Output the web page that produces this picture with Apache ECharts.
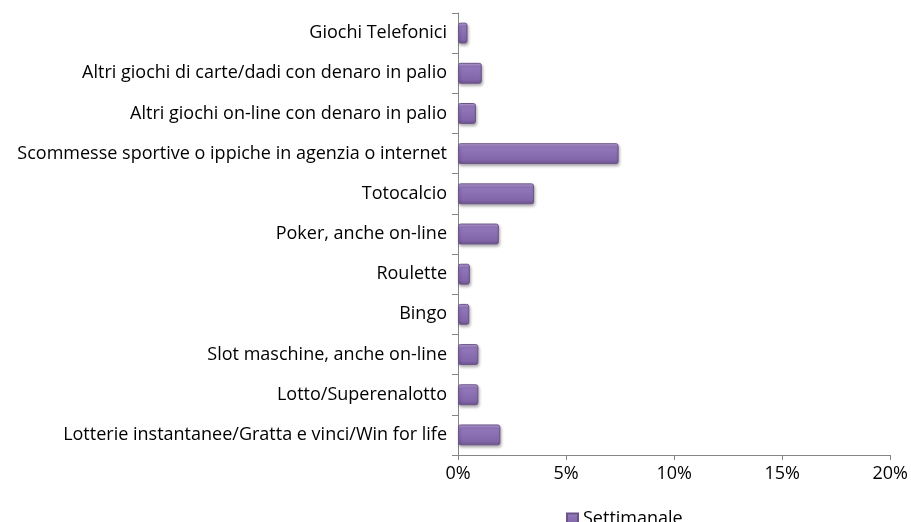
<!DOCTYPE html>
<html>
<head>
<meta charset="utf-8">
<script src="https://cdn.jsdelivr.net/npm/echarts@6/dist/echarts.min.js"></script>
<style>
  html, body { margin: 0; padding: 0; background: #fff; }
  #chart { width: 911px; height: 522px; }
</style>
</head>
<body>
<div id="chart"></div>
<script>
// Categories listed top to bottom
const categories = [
  'Giochi Telefonici',
  'Altri giochi di carte/dadi con denaro in palio',
  'Altri giochi on-line con denaro in palio',
  'Scommesse sportive o ippiche in agenzia o internet',
  'Totocalcio',
  'Poker, anche on-line',
  'Roulette',
  'Bingo',
  'Slot maschine, anche on-line',
  'Lotto/Superenalotto',
  'Lotterie instantanee/Gratta e vinci/Win for life'
];
// Weekly share of players (%)
const settimanale = [0.44, 1.1, 0.83, 7.43, 3.52, 1.89, 0.55, 0.52, 0.94, 0.94, 1.96];
const seriesName = 'Settimanale';

const chart = echarts.init(document.getElementById('chart'));
const font = 'Open Sans';
const fs = 18;

chart.setOption({
  animation: false,
  backgroundColor: '#ffffff',
  grid: { left: 458, right: 19, top: 13, bottom: 67, containLabel: false },
  legend: {
    data: [seriesName],
    top: 505,
    left: 561,
    itemWidth: 11,
    itemHeight: 11,
    itemGap: 6,
    icon: 'rect',
    textStyle: { fontFamily: font, fontSize: fs, color: '#000' }
  },
  xAxis: {
    type: 'value',
    min: 0,
    max: 20,
    interval: 5,
    axisLine: { show: true, lineStyle: { color: '#868686', width: 1 } },
    axisTick: { show: true, length: 5, inside: false, lineStyle: { color: '#868686' } },
    splitLine: { show: false },
    axisLabel: {
      formatter: v => v + '%',
      fontFamily: font, fontSize: fs, color: '#000', margin: 10
    }
  },
  yAxis: {
    type: 'category',
    data: categories,
    inverse: true,
    axisLine: { show: true, lineStyle: { color: '#868686', width: 1 } },
    axisTick: { show: true, length: 6, lineStyle: { color: '#868686' } },
    axisLabel: { fontFamily: font, fontSize: fs, color: '#000', margin: 11 }
  },
  series: [{
    name: seriesName,
    type: 'bar',
    data: settimanale,
    barWidth: '52%',
    itemStyle: {
      color: new echarts.graphic.LinearGradient(0, 0, 0, 1, [
        { offset: 0, color: '#c0a8e0' },
        { offset: 0.18, color: '#9478bc' },
        { offset: 0.8, color: '#8266aa' },
        { offset: 1, color: '#6c518e' }
      ]),
      borderColor: '#6b5488',
      borderWidth: 1,
      borderRadius: 2,
      shadowColor: 'rgba(0,0,0,0.3)',
      shadowBlur: 3,
      shadowOffsetX: 1,
      shadowOffsetY: 2
    }
  }]
});
</script>
</body>
</html>
